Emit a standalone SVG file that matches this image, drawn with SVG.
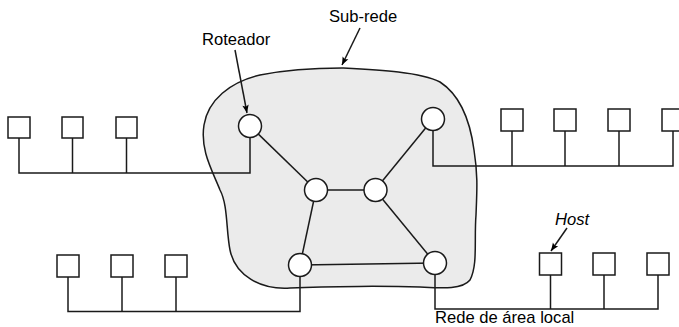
<svg xmlns="http://www.w3.org/2000/svg" width="679" height="327" viewBox="0 0 679 327">
<style>
.ln{fill:none;stroke:#1a1a1a;stroke-width:1.5}
.host{fill:#fff;stroke:#1a1a1a;stroke-width:1.5}
.rt{fill:#fff;stroke:#1a1a1a;stroke-width:1.5}
.lbl{font-family:"Liberation Sans",Arial,sans-serif;font-size:16.6px;fill:#000}
</style>
<defs>
<marker id="ah" viewBox="0 0 10 10" refX="10" refY="5" markerWidth="10" markerHeight="8" markerUnits="userSpaceOnUse" orient="auto">
<path d="M0,1 L10,5 L0,9 L2,5 Z" fill="#000"/>
</marker>
</defs>
<rect width="679" height="327" fill="#fff"/>
<g id="subnet">
<path d="M 342 68 C 380 70, 420 72, 440 82 C 460 95, 470 120, 474 150 C 478 175, 477 190, 476 215 C 474 240, 478 265, 470 280 C 462 290, 440 288, 420 287 C 390 286, 330 286, 290 288 C 260 290, 235 275, 230 250 C 226 230, 228 205, 220 190 C 212 170, 200 150, 204 125 C 208 100, 230 82, 260 75 C 290 69, 320 68, 342 68 Z" fill="#ebebeb" stroke="#1a1a1a" stroke-width="1.5"/>
</g>
<g id="connectors">
<line class="ln" x1="250" y1="126" x2="316" y2="190"/>
<line class="ln" x1="433" y1="119" x2="375" y2="190"/>
<line class="ln" x1="316" y1="190" x2="375" y2="190"/>
<line class="ln" x1="316" y1="190" x2="300" y2="265"/>
<line class="ln" x1="375" y1="190" x2="435" y2="263"/>
<line class="ln" x1="300" y1="265" x2="435" y2="263"/>
<polyline class="ln" points="19,128 19,173 250,173 250,126"/>
<line class="ln" x1="72.5" y1="128" x2="72.5" y2="173"/>
<line class="ln" x1="126.5" y1="128" x2="126.5" y2="173"/>
<polyline class="ln" points="433,119 433,166 673,166 673,120"/>
<line class="ln" x1="512" y1="120" x2="512" y2="166"/>
<line class="ln" x1="565" y1="120" x2="565" y2="166"/>
<line class="ln" x1="619" y1="120" x2="619" y2="166"/>
<polyline class="ln" points="68,266 68,311.5 300,311.5 300,265"/>
<line class="ln" x1="122" y1="266" x2="122" y2="311.5"/>
<line class="ln" x1="176" y1="266" x2="176" y2="311.5"/>
<polyline class="ln" points="435,263 435,309 658,309 658,264"/>
<line class="ln" x1="550.5" y1="264" x2="550.5" y2="309"/>
<line class="ln" x1="604" y1="264" x2="604" y2="309"/>
<line class="ln" x1="360" y1="28" x2="342" y2="65" marker-end="url(#ah)"/>
<line class="ln" x1="235" y1="50" x2="247" y2="113" marker-end="url(#ah)"/>
<line class="ln" x1="567" y1="228" x2="551" y2="251" marker-end="url(#ah)"/>
</g>
<g id="routers">
<circle id="r1" class="rt" cx="250" cy="126" r="11.5"/>
<circle id="r2" class="rt" cx="433" cy="119" r="11.5"/>
<circle id="r3" class="rt" cx="316" cy="190" r="11.5"/>
<circle id="r4" class="rt" cx="375.5" cy="190" r="11.5"/>
<circle id="r5" class="rt" cx="300" cy="265" r="11.5"/>
<circle id="r6" class="rt" cx="435" cy="263" r="11.5"/>
</g>
<g id="hosts">
<rect class="host" x="8" y="117" width="22" height="21"/>
<rect class="host" x="62" y="117" width="21" height="21"/>
<rect class="host" x="116" y="117" width="21" height="21"/>
<rect class="host" x="501" y="109" width="22" height="22"/>
<rect class="host" x="554" y="109" width="22" height="22"/>
<rect class="host" x="608" y="109" width="22" height="22"/>
<rect class="host" x="662" y="109" width="22" height="22"/>
<rect class="host" x="57" y="255" width="22" height="22"/>
<rect class="host" x="111" y="255" width="22" height="22"/>
<rect class="host" x="165" y="255" width="22" height="22"/>
<rect class="host" x="539.5" y="253" width="22" height="22"/>
<rect class="host" x="593" y="253" width="22" height="22"/>
<rect class="host" x="647" y="253" width="22" height="22"/>
</g>
<g id="labels">
<text class="lbl" x="329" y="22">Sub-rede</text>
<text class="lbl" x="202" y="45">Roteador</text>
<text class="lbl" x="555" y="225" font-style="italic">Host</text>
<text class="lbl" x="435" y="323">Rede de área local</text>
</g>
</svg>
